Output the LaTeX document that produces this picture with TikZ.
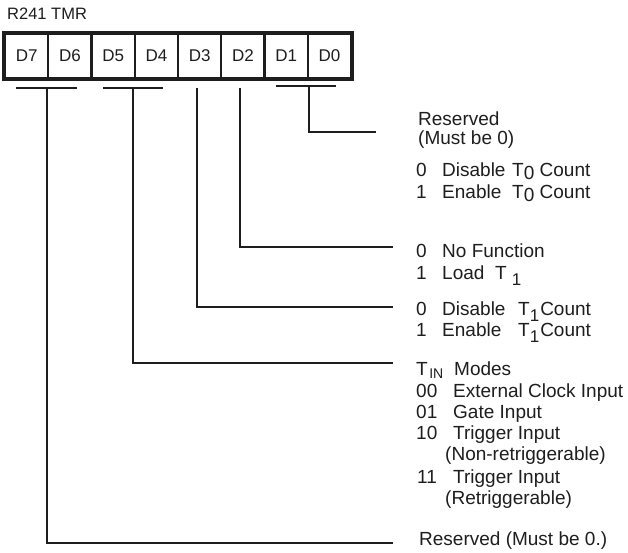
\documentclass[tikz,border=0pt]{standalone}
\usepackage{fontspec}
\setmainfont{Liberation Sans}
\definecolor{ink}{HTML}{1E1E1E}
\newcommand\lowsub[3]{\lower#1\hbox{\fontsize{#2}{#2}\selectfont #3}}
\begin{document}
\begin{tikzpicture}[x=1pt,y=-1pt,
  cell/.style={draw=ink,line width=2.4pt,minimum width=43.25pt,minimum height=44pt,inner sep=0pt,
    font=\fontsize{17}{17}\selectfont,text=ink},
  lbl/.style={anchor=base west,inner sep=0pt,font=\fontsize{19}{21}\selectfont,text=ink},
  ttl/.style={anchor=base west,inner sep=0pt,font=\fontsize{16.5}{18}\selectfont,text=ink},
  conn/.style={draw=ink,line width=2.7pt,line join=miter}]
\useasboundingbox (0,0) rectangle (628,552);
\fill[white] (0,0) rectangle (628,552);

% title
\node[ttl] (title) at (7,19.5) {R241 TMR};

% register cells
\foreach \i/\n in {0/7,1/6,2/5,3/4,4/3,5/2,6/1,7/0}
  \node[cell] (d\n) at ({5+43.25*(\i+0.5)},56) {D\n};
\draw[ink,line width=4.5pt] (d7.north west) rectangle (d0.south east);

% connector coordinates
\coordinate (b76a) at (16,88);  \coordinate (b76b) at (77,88);
\coordinate (v76) at (47,88);   \coordinate (e76) at (393,543);
\coordinate (b54a) at (103,88); \coordinate (b54b) at (163,88);
\coordinate (v54) at (133,88);  \coordinate (e54) at (393,363);
\coordinate (v3) at (197,88);   \coordinate (e3) at (393,307);
\coordinate (v2) at (240,88);   \coordinate (e2) at (393,247);
\coordinate (b10a) at (276,86); \coordinate (b10b) at (336,86);
\coordinate (v10) at (309,86);  \coordinate (e10) at (376,132);

% connectors
\draw[conn] (b76a) -- (b76b);
\draw[conn] (v76) |- (e76);
\draw[conn] (b54a) -- (b54b);
\draw[conn] (v54) |- (e54);
\draw[conn] (v3) |- (e3);
\draw[conn] (v2) |- (e2);
\draw[conn] (b10a) -- (b10b);
\draw[conn] (v10) |- (e10);

% descriptions
\node[lbl] (a1) at (418,125) {Reserved};
\node[lbl] (a2) at (418,144) {(Must be 0)};

\node[lbl] (b1) at (416,176) {\makebox[26pt][l]{0}\makebox[70pt][l]{Disable}T\lowsub{3pt}{19}{0} Count};
\node[lbl] (b2) at (416,198) {\makebox[26pt][l]{1}\makebox[70pt][l]{Enable}T\lowsub{3pt}{19}{0} Count};

\node[lbl] (c1) at (416,257) {\makebox[26pt][l]{0}No Function};
\node[lbl] (c2) at (416,279) {\makebox[26pt][l]{1}\makebox[53pt][l]{Load}T\hspace{5pt}\lowsub{6pt}{17}{1}};

\node[lbl] (dd1) at (416,315) {\makebox[26pt][l]{0}\makebox[76pt][l]{Disable}T\lowsub{6pt}{17}{1}\hspace{1pt}Count};
\node[lbl] (dd2) at (416,336) {\makebox[26pt][l]{1}\makebox[76pt][l]{Enable}T\lowsub{6pt}{17}{1}\hspace{1pt}Count};

\node[lbl] (e1) at (416,375) {\makebox[38pt][l]{T\hspace{1.5pt}\lowsub{3pt}{14}{IN}}Modes};
\node[lbl] (e2t) at (416,397) {\makebox[37pt][l]{00}External Clock Input};
\node[lbl] (e3t) at (416,418) {\makebox[37pt][l]{01}Gate Input};
\node[lbl] (e4) at (416,439) {\makebox[37pt][l]{10}Trigger Input};
\node[lbl] (e5) at (416,460) {\hspace{29pt}(Non-retriggerable)};
\node[lbl] (e6) at (417,483) {\makebox[36pt][l]{11}Trigger Input};
\node[lbl] (e7) at (416,504) {\hspace{29pt}(Retriggerable)};

\node[lbl] (f1) at (419,545) {Reserved (Must be 0.)};
\end{tikzpicture}
\end{document}
